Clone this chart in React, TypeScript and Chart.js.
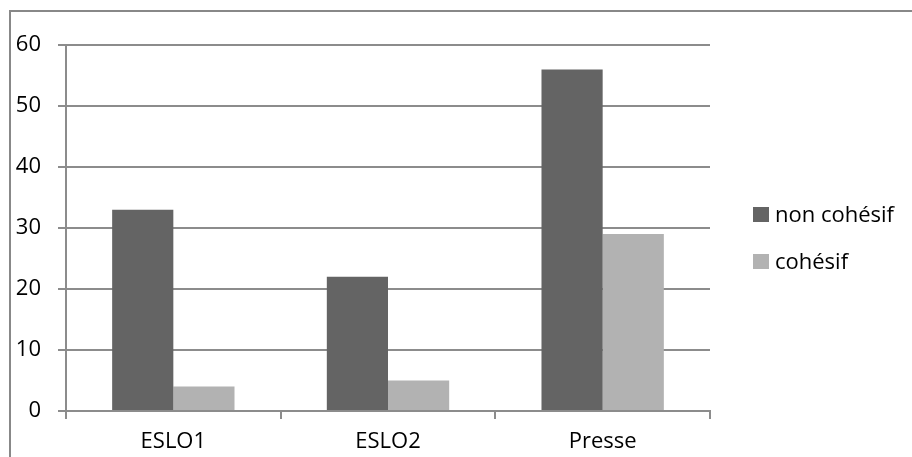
import React, { useEffect, useRef } from "react";
import { Chart, registerables } from "chart.js";

Chart.register(...registerables);

const categories = ["ESLO1", "ESLO2", "Presse"];
const nonCohesif = [33, 22, 56];
const cohesif = [4, 5, 29];
const seriesLabels = ["non cohésif", "cohésif"];
const seriesColors = ["#646464", "#b2b2b2"];
const yTicks = [0, 10, 20, 30, 40, 50, 60];

const FONT = "'Open Sans', 'Noto Sans', sans-serif";
const GRID = "#8c8c8c";

const legendPlugin = {
  id: "sideLegend",
  afterDraw(chart: any) {
    const { ctx, chartArea } = chart;
    ctx.save();
    ctx.font = `22px ${FONT}`;
    ctx.textBaseline = "alphabetic";
    ctx.textAlign = "left";
    chart.data.datasets.forEach((ds: any, i: number) => {
      const x = chartArea.right + 43;
      const top = chartArea.top + 162 + i * 47;
      ctx.fillStyle = ds.backgroundColor;
      ctx.fillRect(x, top, 16, 15);
      ctx.fillStyle = "#000";
      ctx.fillText(ds.label, x + 22, top + 15);
    });
    ctx.restore();
  },
};

export default function App() {
  const ref = useRef<HTMLCanvasElement | null>(null);

  useEffect(() => {
    if (!ref.current) return;
    const chart = new Chart(ref.current, {
      type: "bar",
      data: {
        labels: categories,
        datasets: [
          {
            label: seriesLabels[0],
            data: nonCohesif,
            backgroundColor: seriesColors[0],
            barPercentage: 1,
            categoryPercentage: 0.57,
          },
          {
            label: seriesLabels[1],
            data: cohesif,
            backgroundColor: seriesColors[1],
            barPercentage: 1,
            categoryPercentage: 0.57,
          },
        ],
      },
      options: {
        animation: false,
        responsive: false,
        devicePixelRatio: 1,
        layout: { padding: { top: 45, right: 202, left: 0, bottom: 0 } },
        plugins: {
          legend: { display: false },
          tooltip: { enabled: false },
        },
        scales: {
          x: {
            grid: {
              drawOnChartArea: false,
              drawTicks: true,
              tickLength: 8,
              offset: true,
              color: GRID,
              lineWidth: 2,
            },
            border: { display: true, color: GRID, width: 2 },
            ticks: {
              color: "#000",
              font: { family: FONT, size: 22 },
              padding: 10,
            },
            afterFit: (scale: any) => {
              scale.height = 46;
            },
          },
          y: {
            min: 0,
            max: 60,
            afterBuildTicks: (scale: any) => {
              scale.ticks = yTicks.map((v) => ({ value: v }));
            },
            grid: {
              color: GRID,
              lineWidth: 2,
              tickLength: 8,
              drawTicks: true,
            },
            border: { display: true, color: GRID, width: 2 },
            ticks: {
              color: "#000",
              font: { family: FONT, size: 22 },
              padding: 17,
            },
            afterFit: (scale: any) => {
              scale.width = 66;
            },
          },
        },
      },
      plugins: [legendPlugin],
    });
    return () => chart.destroy();
  }, []);

  return (
    <div
      style={{
        position: "absolute",
        left: 0,
        top: 0,
        width: 912,
        height: 457,
        overflow: "hidden",
        background: "#fff",
      }}
    >
      <canvas
        ref={ref}
        width={912}
        height={457}
        style={{ position: "absolute", left: 0, top: 0, width: 912, height: 457 }}
      />
      <div
        style={{
          position: "absolute",
          left: 9,
          top: 10,
          width: 940,
          height: 480,
          border: "2px solid #888",
          pointerEvents: "none",
        }}
      />
    </div>
  );
}
